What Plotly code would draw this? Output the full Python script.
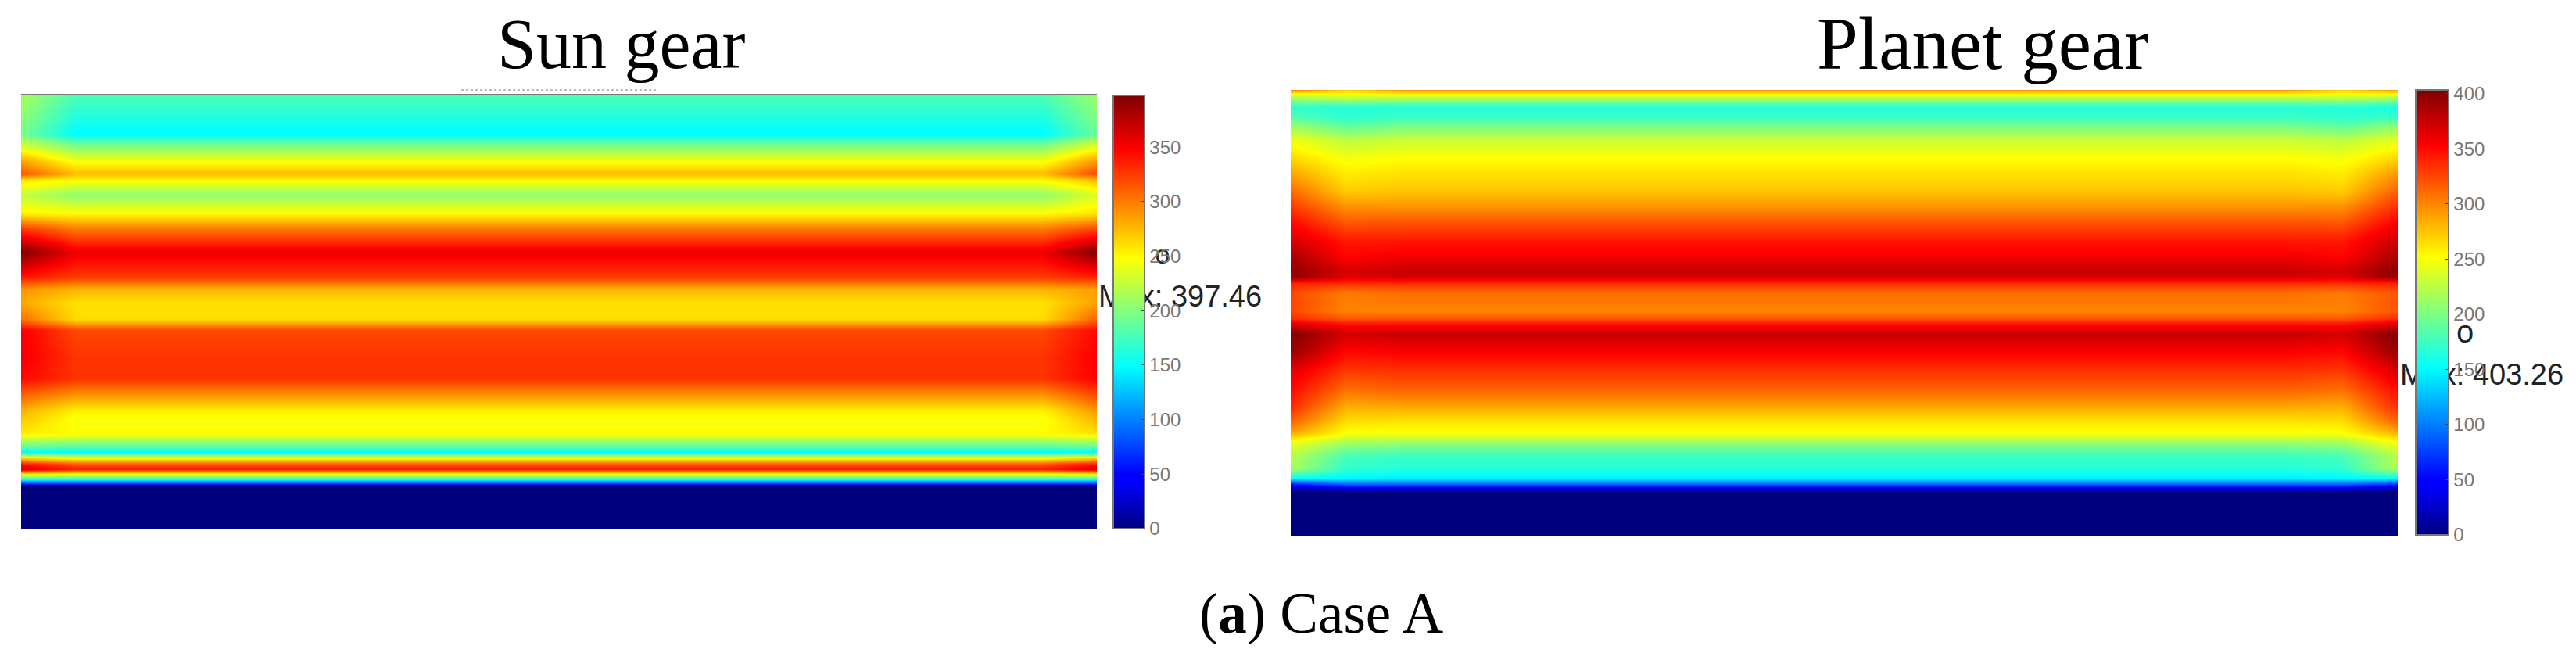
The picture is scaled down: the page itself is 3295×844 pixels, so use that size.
import plotly.graph_objects as go

W, H = 3295, 844

jet = [[0, "#00007f"], [0.11, "#0000ff"], [0.125, "#0000ff"], [0.375, "#00ffff"],
       [0.5, "#80ff80"], [0.625, "#ffff00"], [0.875, "#ff0000"], [1, "#7f0000"]]

sun_rows = [230,320,350,385,415,430,465,510,545,600,660,690,720,760,785,850,900,940,975,1000,1030,1060,1075,1090,1105,1115,1125,1140,1150,1156,1256]
sun_center = [178,148,200,245,275,250,205,250,300,355,325,278,260,262,320,328,328,290,255,245,250,185,150,250,320,335,260,150,60,0,0]
sun_left = [215,195,235,285,315,260,225,255,325,397,340,290,282,305,350,352,345,310,280,268,255,190,150,270,345,360,270,150,60,0,0]
sun_right = [210,190,240,290,320,275,235,260,320,397,335,285,285,310,345,350,348,320,290,275,260,190,150,270,345,360,270,150,60,0,0]

planet_rows = [85,100,110,140,170,200,240,290,340,400,450,500,560,600,650,670,690,720,775,800,820,850,900,960,1020,1080,1130,1160,1190,1230,1270,1300,1320,1335,1345,1482]
planet_center = [290,250,220,165,175,200,230,250,262,275,295,320,345,355,375,370,335,310,300,320,350,375,355,335,315,285,260,250,210,175,165,145,90,30,0,0]
planet_inner = [270,245,225,165,170,190,225,245,258,272,295,318,345,350,368,365,335,305,300,318,350,370,352,332,310,283,262,250,215,180,170,148,90,30,0,0]
planet_left = [300,240,215,170,185,215,245,265,285,310,330,350,370,385,397,395,340,325,325,335,370,403,395,365,350,335,310,285,245,225,215,155,60,15,0,0]
planet_right = [290,245,215,160,175,210,240,265,290,315,335,355,375,385,400,395,340,320,320,335,370,403,395,370,350,335,310,280,250,225,220,155,70,15,0,0]

x_percent = list(range(0, 105, 5))
sun_columns = [sun_left] + [sun_center] * 19 + [sun_right]
planet_columns = [planet_left, planet_inner] + [planet_center] * 17 + [planet_inner, planet_right]

sun_ticks = [0, 50, 100, 150, 200, 250, 300, 350]
planet_ticks = [0, 50, 100, 150, 200, 250, 300, 350, 400]
sun_max, planet_max = 397.46, 403.26


def rows_of(columns):
    return [list(r) for r in zip(*columns)]


def px(a, b, total):
    return [a / total, b / total]


def cbar(x0, x1, top, bottom, ticks):
    return dict(
        x=x0 / W, xanchor="left", xpad=0, thickness=x1 - x0, thicknessmode="pixels",
        y=(H - bottom) / H, yanchor="bottom", ypad=0, len=(bottom - top) / H, lenmode="fraction",
        tickvals=ticks, ticks="inside", ticklen=6, tickwidth=1, tickcolor="#444",
        outlinecolor="#777", outlinewidth=2, borderwidth=0,
        tickfont=dict(family="Liberation Sans", size=24, color="#777"),
    )


fig = go.Figure()
fig.add_trace(go.Heatmap(z=rows_of(sun_columns), x=x_percent, y=sun_rows, zmin=0, zmax=sun_max,
                         colorscale=jet, zsmooth="best", xaxis="x", yaxis="y",
                         colorbar=cbar(1424, 1464, 122, 676, sun_ticks)))
fig.add_trace(go.Heatmap(z=rows_of(planet_columns), x=x_percent, y=planet_rows, zmin=0, zmax=planet_max,
                         colorscale=jet, zsmooth="best", xaxis="x2", yaxis="y2",
                         colorbar=cbar(3090, 3132, 115, 684, planet_ticks)))

# text sits in the plot layer so that the colour bars cover it, as in the reference
label_font = dict(family="Liberation Sans", size=38, color="#222")
fig.add_trace(go.Scatter(x=[1405, 3070], y=[382, 482], mode="text", text=[f"Max: {sun_max}", f"Max: {planet_max}"],
                         textposition="middle right", textfont=label_font, xaxis="x3", yaxis="y3",
                         cliponaxis=False, hoverinfo="skip", showlegend=False))
fig.add_trace(go.Scatter(x=[1487, 3153], y=[328, 428], mode="text", text=["o", "o"],
                         textposition="middle center",
                         textfont=dict(family="Liberation Sans", size=[34, 40], color="#222"),
                         xaxis="x3", yaxis="y3", cliponaxis=False, hoverinfo="skip", showlegend=False))

hidden = dict(visible=False, fixedrange=True)
fig.update_layout(
    width=W, height=H, margin=dict(l=0, r=0, t=0, b=0), autosize=False,
    paper_bgcolor="white", plot_bgcolor="rgba(0,0,0,0)", showlegend=False,
    xaxis=dict(domain=px(27, 1403, W), range=[0, 100], side="top", showline=True, linecolor="#777",
               linewidth=2, showticklabels=False, ticks="", showgrid=False, zeroline=False, fixedrange=True),
    yaxis=dict(domain=px(H - 676, H - 122, H), range=[sun_rows[-1], sun_rows[0]], **hidden),
    xaxis2=dict(domain=px(1651, 3067, W), range=[0, 100], **hidden),
    yaxis2=dict(domain=px(H - 685, H - 115, H), range=[planet_rows[-1], planet_rows[0]], **hidden),
    xaxis3=dict(domain=[0, 1], range=[0, W], **hidden),
    yaxis3=dict(domain=[0, 1], range=[H, 0], **hidden),
    shapes=[dict(type="line", xref="x3", yref="y3", x0=590, x1=840, y0=115, y1=115,
                 line=dict(color="#bbb", width=2, dash="dot"))],
    annotations=[
        dict(text=t, x=x / W, y=1 - y / H, xref="paper", yref="paper", showarrow=False,
             xanchor="center", yanchor="middle",
             font=dict(family="Liberation Serif", size=s, color="#000"))
        for t, x, y, s in [("Sun gear", 794, 56, 90), ("Planet gear", 2536, 56, 95),
                           ("(<b>a</b>) Case A", 1690, 784, 73)]
    ],
)
fig.write_html("out.html", config={"displayModeBar": False}, post_script="document.body.style.margin='0';")
